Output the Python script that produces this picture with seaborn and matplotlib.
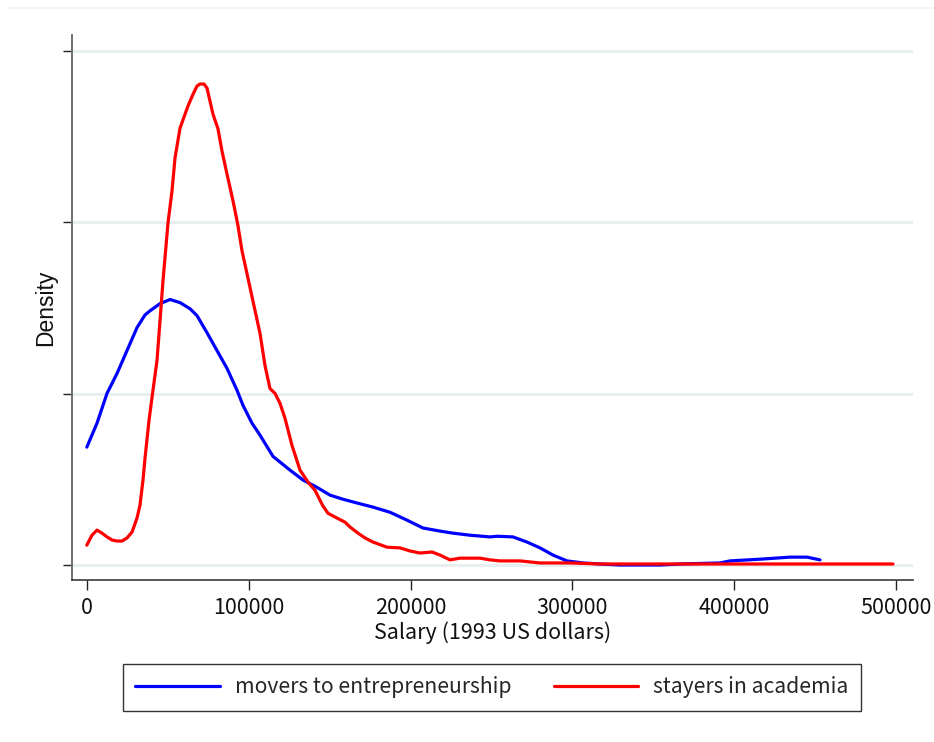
import matplotlib
matplotlib.use("Agg")
import matplotlib.pyplot as plt
from matplotlib.lines import Line2D
import numpy as np
import pandas as pd
import seaborn as sns

# Kernel density estimates of salary, by career path
movers_salary = [0, 6300, 12480, 18650, 24830, 31010, 35950, 39040, 45220, 51390,
                 57570, 63750, 68070, 74250, 80420, 86600, 92780, 96480, 102040, 106990,
                 115010, 125520, 133550, 140960, 150230, 158260, 166910, 176790, 187290, 197790,
                 207670, 218170, 226200, 236700, 249060, 253380, 263260, 271910, 279940, 287970,
                 296620, 306500, 317000, 329360, 341710, 354070, 366420, 391130, 397310, 415840,
                 434370, 444870, 452900]
movers_density = [3.44e-6, 4.14e-6, 5.01e-6, 5.59e-6, 6.26e-6, 6.93e-6, 7.30e-6, 7.42e-6, 7.63e-6, 7.75e-6,
                  7.66e-6, 7.48e-6, 7.28e-6, 6.78e-6, 6.26e-6, 5.74e-6, 5.10e-6, 4.66e-6, 4.14e-6, 3.79e-6,
                  3.17e-6, 2.77e-6, 2.48e-6, 2.30e-6, 2.04e-6, 1.92e-6, 1.81e-6, 1.69e-6, 1.54e-6, 1.31e-6,
                  1.08e-6, 0.99e-6, 0.93e-6, 0.87e-6, 0.82e-6, 0.84e-6, 0.82e-6, 0.67e-6, 0.50e-6, 0.29e-6,
                  0.12e-6, 0.06e-6, 0.03e-6, 0.0, 0.0, 0.0, 0.03e-6, 0.06e-6, 0.12e-6, 0.17e-6,
                  0.23e-6, 0.23e-6, 0.15e-6]

stayers_salary = [0, 3200, 6300, 9390, 12480, 15570, 18650, 21740, 24830, 27920,
                  31010, 32860, 34710, 35950, 38420, 40270, 43360, 45220, 47070, 50160,
                  52630, 54480, 57570, 62510, 65600, 68070, 69920, 72390, 74250, 76100,
                  77950, 81040, 83510, 86600, 90310, 93400, 95870, 100810, 103900, 106990,
                  110070, 113160, 116250, 119340, 122430, 126750, 131690, 136640, 140960, 144050,
                  145900, 148990, 154550, 159490, 162580, 167520, 171850, 176790, 185430, 193460,
                  199640, 205820, 213230, 218170, 224350, 230530, 242880, 249060, 255230, 267590,
                  279940, 298470, 317000, 347890, 378770, 409660, 440540, 471430, 498000]
stayers_density = [0.58e-6, 0.87e-6, 1.02e-6, 0.93e-6, 0.82e-6, 0.73e-6, 0.70e-6, 0.70e-6, 0.79e-6, 0.96e-6,
                   1.37e-6, 1.75e-6, 2.48e-6, 3.12e-6, 4.22e-6, 4.89e-6, 5.97e-6, 7.13e-6, 8.30e-6, 9.99e-6,
                   10.92e-6, 11.88e-6, 12.75e-6, 13.40e-6, 13.74e-6, 13.98e-6, 14.04e-6, 14.04e-6, 13.92e-6, 13.54e-6,
                   13.16e-6, 12.73e-6, 12.08e-6, 11.41e-6, 10.63e-6, 9.90e-6, 9.17e-6, 8.10e-6, 7.43e-6, 6.76e-6,
                   5.82e-6, 5.15e-6, 5.01e-6, 4.72e-6, 4.28e-6, 3.49e-6, 2.77e-6, 2.42e-6, 2.18e-6, 1.89e-6,
                   1.72e-6, 1.51e-6, 1.37e-6, 1.25e-6, 1.11e-6, 0.93e-6, 0.79e-6, 0.67e-6, 0.52e-6, 0.50e-6,
                   0.41e-6, 0.35e-6, 0.38e-6, 0.29e-6, 0.15e-6, 0.20e-6, 0.20e-6, 0.15e-6, 0.12e-6, 0.12e-6,
                   0.06e-6, 0.06e-6, 0.03e-6, 0.03e-6, 0.03e-6, 0.03e-6, 0.03e-6, 0.03e-6, 0.03e-6]

group_names = ["movers to entrepreneurship", "stayers in academia"]
group_colors = ["#0000ff", "#ff0000"]
x_ticks = [0, 100000, 200000, 300000, 400000, 500000]
y_ticks = [0, 5e-6, 1e-5, 1.5e-5]

df = pd.concat([
    pd.DataFrame({"salary": movers_salary, "density": movers_density, "group": group_names[0]}),
    pd.DataFrame({"salary": stayers_salary, "density": stayers_density, "group": group_names[1]}),
], ignore_index=True)

sns.set_theme(style="white")
plt.rcParams["font.family"] = ["Noto Sans CJK JP", "DejaVu Sans"]

fig = plt.figure(figsize=(9.34, 7.42), dpi=100)
ax = fig.add_axes([0.0771, 0.2183, 0.9000, 0.7345])

sns.lineplot(data=df, x="salary", y="density", hue="group", hue_order=group_names,
             palette=group_colors, linewidth=2.3, sort=False, estimator=None, ax=ax)

ax.set_xlim(-9140, 510100)
ax.set_ylim(-4.38e-7, 1.547e-5)
ax.set_xticks(x_ticks)
ax.set_xticklabels([str(v) for v in x_ticks], fontsize=15.5)
ax.set_yticks(y_ticks)
ax.set_yticklabels([])

ax.grid(axis="y", color="#e6eef0", linewidth=2)
ax.grid(axis="x", visible=False)
ax.set_axisbelow(True)

for side in ("top", "right"):
    ax.spines[side].set_visible(False)
ax.spines["left"].set_color("#6e6e6e")
ax.spines["left"].set_linewidth(1.4)
ax.spines["bottom"].set_color("#3a3a3a")
ax.spines["bottom"].set_linewidth(1.2)
ax.tick_params(axis="x", bottom=True, direction="out", length=7, width=1, color="#222222", pad=5,
               labelcolor="#111111")
ax.tick_params(axis="y", left=True, direction="out", length=6.5, width=1, color="#222222")

ax.set_xlabel("Salary (1993 US dollars)", fontsize=15.5, labelpad=2, color="#111111")
ax.set_ylabel("Density", fontsize=16.5, labelpad=1, family=["Liberation Sans", "DejaVu Sans"], color="#111111")

sns.move_legend(ax, "center", bbox_to_anchor=(0.5268, 0.0735), bbox_transform=fig.transFigure,
                ncol=2, title=None, frameon=True, fancybox=False, fontsize=15.2,
                handlelength=4.0, handletextpad=0.72, columnspacing=2.0, borderpad=0.6,
                borderaxespad=0)
leg = ax.get_legend()
leg.get_frame().set_edgecolor("#000000")
leg.get_frame().set_linewidth(1.0)
for line in leg.get_lines():
    line.set_linewidth(2.3)

# faint outer border line along the top of the graph region
fig.add_artist(Line2D([0.007, 1.0], [1 - 8 / 742, 1 - 8 / 742], transform=fig.transFigure,
                      color="#eef3f4", linewidth=1.2))

fig.savefig("out.png", dpi=100, facecolor="white")
